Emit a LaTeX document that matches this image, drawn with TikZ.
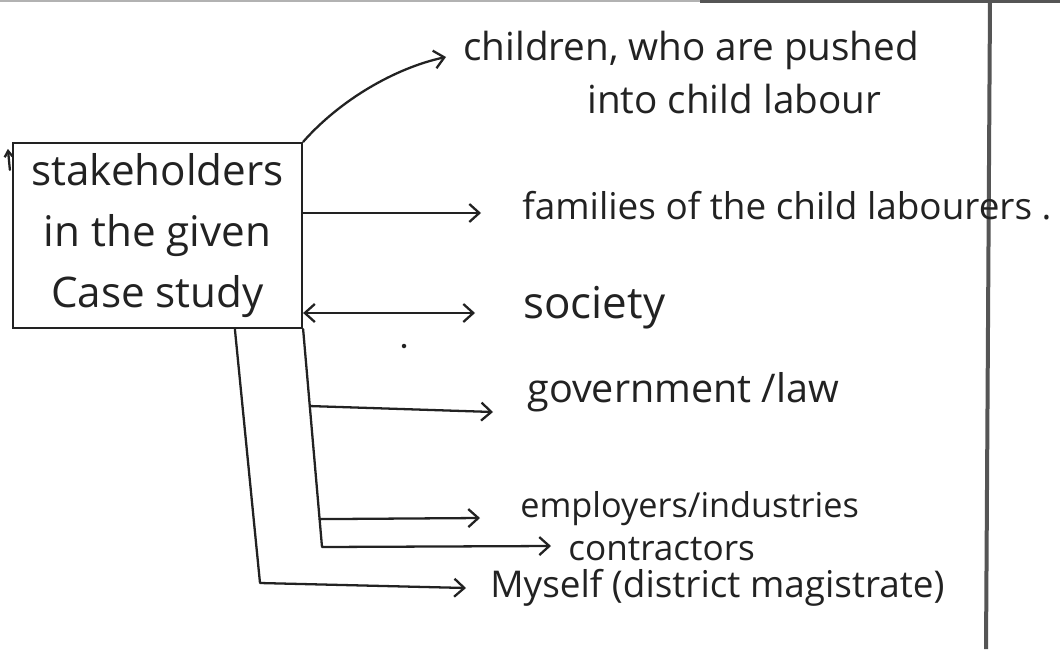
\documentclass[tikz,border=0pt]{standalone}
\usepackage{fontspec}
\setmainfont{Open Sans}
\usetikzlibrary{arrows.meta,calc}
\definecolor{ink}{HTML}{222222}
\definecolor{rule}{HTML}{555555}
\begin{document}
\begin{tikzpicture}[x=0.02cm,y=-0.02cm,
  pen/.style={draw=ink, line width=1.3pt, line cap=round, line join=round},
  tipA/.tip={Straight Barb[length=2mm,width=3.6mm]},
  arr/.style={pen, -tipA},
  arrboth/.style={pen, tipA-tipA},
  label/.style={anchor=base west, inner sep=0pt, text=ink, font=\fontsize{21}{25}\selectfont},
  boxnode/.style={draw=ink, line width=1.3pt, minimum width=5.78cm, minimum height=3.7cm,
    align=center, text=ink, font=\fontsize{24}{34.7}\selectfont, inner sep=0pt}]

\useasboundingbox (0,0) rectangle (1060,649);
\fill[white] (0,0) rectangle (1060,649);

% edges of the sheet
\draw[rule!45, line width=0.05cm] (0,1) -- (700,1);
\draw[rule, line width=0.07cm] (700,1) -- (1060,1);
\draw[rule, line width=0.08cm] (990,0) -- (986,649);

% central box
\node[boxnode] (sh) at (157.5,235.5) {stakeholders\\in the given\\Case study};
\draw[pen, -{Straight Barb[length=1.2mm,width=1.6mm]}] ($(sh.north west)+(-2,28)$) -- ($(sh.north west)+(-4,7)$);

% stakeholder labels (a multi-line label sits on the baseline of its last line)
\node[label, align=left, font=\fontsize{22}{29.6}\selectfont] (ch) at (463,113)
  {children, who are pushed\\\hspace*{2.48cm}into child labour};
\node[label] (fam) at (522,219) {families of the child labourers .};
\node[label, font=\fontsize{25}{30}\selectfont] (soc) at (523,318) {society};
\node[label, font=\fontsize{22.5}{27}\selectfont] (gov) at (527,402) {government /law};
\node[label, font=\fontsize{19.5}{24}\selectfont] (emp) at (520,517) {employers/industries};
\node[label, font=\fontsize{20}{24}\selectfont] (con) at (568,560) {contractors};
\node[label] (me) at (490,597) {Myself (district magistrate)};

% arrow ends and trunk points
\coordinate (chtip) at (446,57);
\coordinate (famtip) at (481,213);
\coordinate (soctip) at (475,313);
\coordinate (govtip) at (493,412);
\coordinate (emptip) at (480,518);
\coordinate (contip) at (551,546);
\coordinate (metip) at (466,588);
\coordinate (rt) at (322,547);
\coordinate (lt0) at ($(sh.south west)+(223,0)$);
\coordinate (lt) at (260,583);

% connectors
\draw[arr] (sh.north east) .. controls (340,100) and (395,68) .. (chtip);
\draw[arr] (sh.east |- famtip) -- (famtip);
\draw[arrboth] (sh.east |- soctip) -- (soctip);
\draw[arr] (sh.south east) -- (rt) -- (contip);
\draw[arr] ($(sh.south east)!0.353!(rt)$) -- (govtip);
\draw[arr] ($(sh.south east)!0.872!(rt)$) -- (emptip);
\draw[arr] (lt0) -- (lt) -- (metip);

% stray pen dot
\fill[ink] (404,346) circle[radius=0.045cm];
\end{tikzpicture}
\end{document}
